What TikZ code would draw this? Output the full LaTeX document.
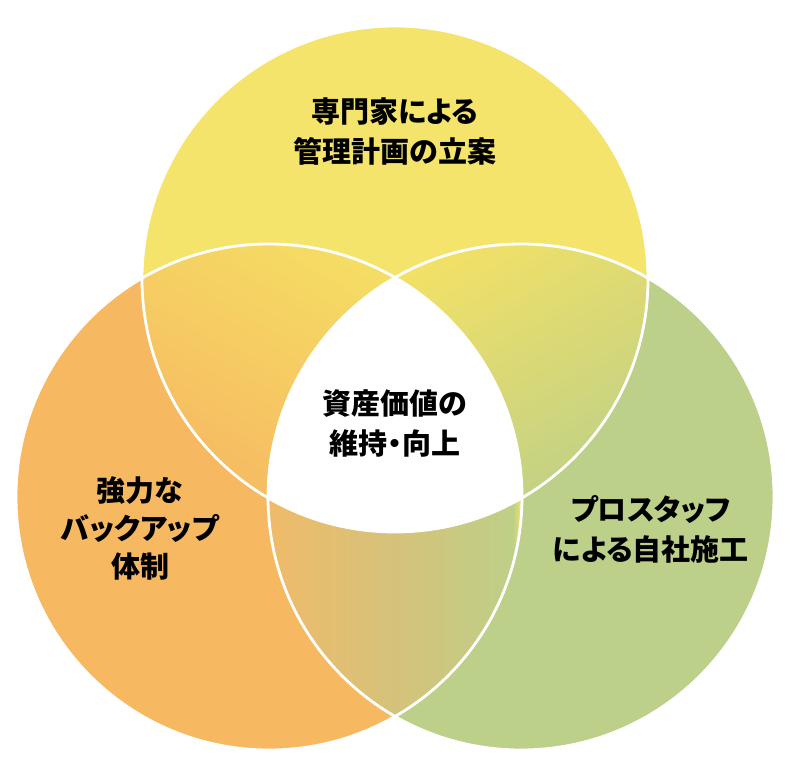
\documentclass[tikz,border=0pt]{standalone}
\usepackage{fontspec}
\newfontfamily\cjk[RawFeature=+palt]{Noto Sans CJK JP}
\definecolor{cyellow}{RGB}{245,228,108}
\definecolor{corange}{RGB}{247,184,98}
\definecolor{cgreen}{RGB}{188,208,138}
\definecolor{tlA}{RGB}{246,188,98}
\definecolor{tlB}{RGB}{245,222,100}
\definecolor{trA}{RGB}{243,225,102}
\definecolor{trB}{RGB}{196,210,132}
\definecolor{btA}{RGB}{240,187,105}
\definecolor{btM}{RGB}{213,194,122}
\definecolor{btB}{RGB}{190,207,136}
\definecolor{btS}{RGB}{226,223,116}
\tikzset{
  vtext/.style={font=\cjk\bfseries\fontsize{29}{40}\selectfont, align=center, text=black},
  rim/.style={draw=white, line width=2.8pt},
}
\newcommand\gradstrips[4]{%
  \foreach \i in {0,...,39}{%
    \pgfmathsetmacro\xa{#1+(#2-#1)*\i/40}%
    \pgfmathsetmacro\xb{#1+(#2-#1)*(\i+1)/40+0.6}%
    \pgfmathtruncatemacro\p{\i*100/39}%
    \fill[#4!\p!#3] (\xa,-300) rectangle (\xb,300);
  }}
\begin{document}
\begin{tikzpicture}[x=1pt,y=1pt]
\useasboundingbox (0,0) rectangle (790,775);
\coordinate (T) at (395,496);
\coordinate (L) at (269,278);
\coordinate (R) at (521,278);
% base discs
\fill[cyellow] (T) circle[radius=253pt];
\fill[corange] (L) circle[radius=253pt];
\fill[cgreen] (R) circle[radius=253pt];
% top-left lens
\begin{scope}
  \clip (T) circle[radius=253pt];
  \clip (L) circle[radius=253pt];
  \begin{scope}[shift={(L)}, rotate=60]
    \gradstrips{-6}{258}{tlA}{tlB}
  \end{scope}
\end{scope}
% top-right lens
\begin{scope}
  \clip (T) circle[radius=253pt];
  \clip (R) circle[radius=253pt];
  \begin{scope}[shift={(T)}, rotate=-60]
    \gradstrips{-6}{258}{trA}{trB}
  \end{scope}
\end{scope}
% bottom lens
\begin{scope}
  \clip (L) circle[radius=253pt];
  \clip (R) circle[radius=253pt];
  \begin{scope}[shift={(L)}]
    \gradstrips{-6}{126}{btA}{btM}
    \gradstrips{126}{244}{btM}{btB}
    \gradstrips{244}{251}{btB}{btS}
    \fill[btS] (251,-300) rectangle (262,300);
  \end{scope}
\end{scope}
% centre region
\begin{scope}
  \clip (T) circle[radius=253pt];
  \clip (L) circle[radius=253pt];
  \fill[white] (R) circle[radius=253pt];
\end{scope}
% white rims
\draw[rim] (T) circle[radius=253pt];
\draw[rim] (L) circle[radius=253pt];
\draw[rim] (R) circle[radius=253pt];
% texts
\node[vtext] (ttop) at (395,643) {専門家による\\管理計画の立案};
\node[vtext] (tmid) at (395,352) {資産価値の\\維持・向上};
\node[vtext, font=\cjk\bfseries\fontsize{29}{38}\selectfont] (tleft) at (140,247) {強力な\\バックアップ\\体制};
\node[vtext] (tright) at (651,246) {プロスタッフ\\による自社施工};
\end{tikzpicture}
\end{document}
